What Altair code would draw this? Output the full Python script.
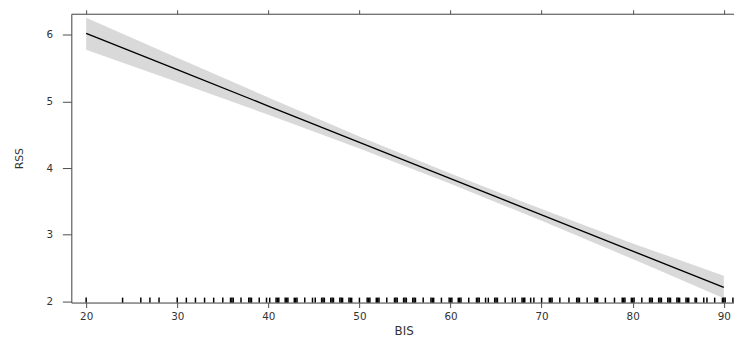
import altair as alt
import pandas as pd

# ---- data ----
bis = [20, 30, 40, 50, 60, 70, 80, 90]
rss_fit = [6.02, 5.476, 4.931, 4.387, 3.843, 3.299, 2.754, 2.21]
rss_lower = [5.775, 5.29, 4.80, 4.295, 3.765, 3.21, 2.635, 2.045]
rss_upper = [6.255, 5.655, 5.06, 4.475, 3.92, 3.385, 2.87, 2.385]

rug_bis = [20, 24, 26, 27, 28, 30, 31, 32, 33, 34, 35,
           35.85, 36, 36.15, 37, 37.85, 38, 38.15, 39, 39.8, 40.15,
           40.85, 41, 41.15, 41.85, 42, 42.15, 42.85, 43, 43.15, 44,
           44.85, 45.15, 45.85, 46, 46.15, 46.85, 47, 47.15, 47.85, 48, 48.15,
           48.85, 49, 49.15, 50, 50.85, 51, 51.15, 51.85, 52, 52.15, 53,
           53.85, 54, 54.15, 54.85, 55, 55.15, 55.85, 56, 56.15, 57,
           57.85, 58, 58.15, 59, 59.85, 60, 60.15, 60.85, 61, 61.15, 62,
           62.85, 63, 63.15, 63.85, 64.15, 64.85, 65, 65.15, 66, 66.8, 67.1,
           67.85, 68, 68.15, 68.8, 69.15, 70, 70.85, 71, 71.15, 72, 73,
           73.85, 74, 74.15, 75, 75.85, 76, 76.15, 77, 78, 78.85, 79, 79.15,
           79.85, 80, 80.15, 81, 81.85, 82, 82.15, 82.85, 83, 83.15, 83.85, 84, 84.15,
           84.85, 85, 85.15, 85.85, 86, 86.15, 86.85, 87, 87.8, 88.15, 89,
           89.85, 90, 90.15, 91]

x_ticks = [20, 30, 40, 50, 60, 70, 80, 90]
y_ticks = [2, 3, 4, 5, 6]

df = pd.DataFrame({"BIS": bis, "fit": rss_fit, "lower": rss_lower, "upper": rss_upper})
rug = pd.DataFrame({"BIS": rug_bis})

W, H = 670, 292
FONT = "DejaVu Sans"
AX = "#4d4d4d"
TX = "#333333"

xs = alt.Scale(domain=[18.37, 91.12], nice=False, zero=False)
ys = alt.Scale(domain=[1.982, 6.316], nice=False, zero=False)

x_bottom = alt.Axis(
    orient="bottom", values=x_ticks, grid=False, tickSize=5, labelPadding=4,
    domainColor=AX, tickColor=AX, labelColor=TX, labelFont=FONT, labelFontSize=10.5,
    labelFlush=False, title="BIS", titleFont=FONT, titleFontSize=12,
    titleFontWeight="normal", titleColor=TX, titleX=336, titleY=28,
    titleBaseline="middle", titleAlign="center",
)
x_top = alt.Axis(
    orient="top", values=x_ticks, grid=False, tickSize=4, labels=False,
    domainColor=AX, tickColor=AX, title=None,
)
y_left = alt.Axis(
    orient="left", values=y_ticks, grid=False, tickSize=9, labelPadding=10,
    domainColor=AX, tickColor=AX, labelColor=TX, labelFont=FONT, labelFontSize=10.5,
    labelFlush=False, title="RSS", titleFont=FONT, titleFontSize=11,
    titleFontWeight="normal", titleColor=TX, titleAngle=270, titleX=-52, titleY=H / 2,
    titleBaseline="middle", titleAlign="center",
)

band = alt.Chart(df).mark_area(color="#d9d9d9", opacity=1).encode(
    x=alt.X("BIS:Q", scale=xs, axis=x_bottom),
    y=alt.Y("lower:Q", scale=ys, axis=y_left),
    y2="upper:Q",
)

line = alt.Chart(df).mark_line(color="black", strokeWidth=1.4).encode(
    x=alt.X("BIS:Q", scale=xs, axis=x_top),
    y=alt.Y("fit:Q", scale=ys, axis=None),
)

rugs = alt.Chart(rug).mark_rule(color="black", strokeWidth=1.5).encode(
    x=alt.X("BIS:Q", scale=xs, axis=None),
    y=alt.value(H - 5),
    y2=alt.value(H),
)

chart = alt.layer(band, line, rugs).resolve_axis(x="independent", y="independent").properties(
    width=W, height=H,
    autosize=alt.AutoSizeParams(type="none"),
    padding={"left": 64, "top": 4, "right": 0, "bottom": 33},
).configure_view(stroke=None).configure(background="white")

chart.save("out.html", embed_options={"renderer": "svg", "actions": False})
